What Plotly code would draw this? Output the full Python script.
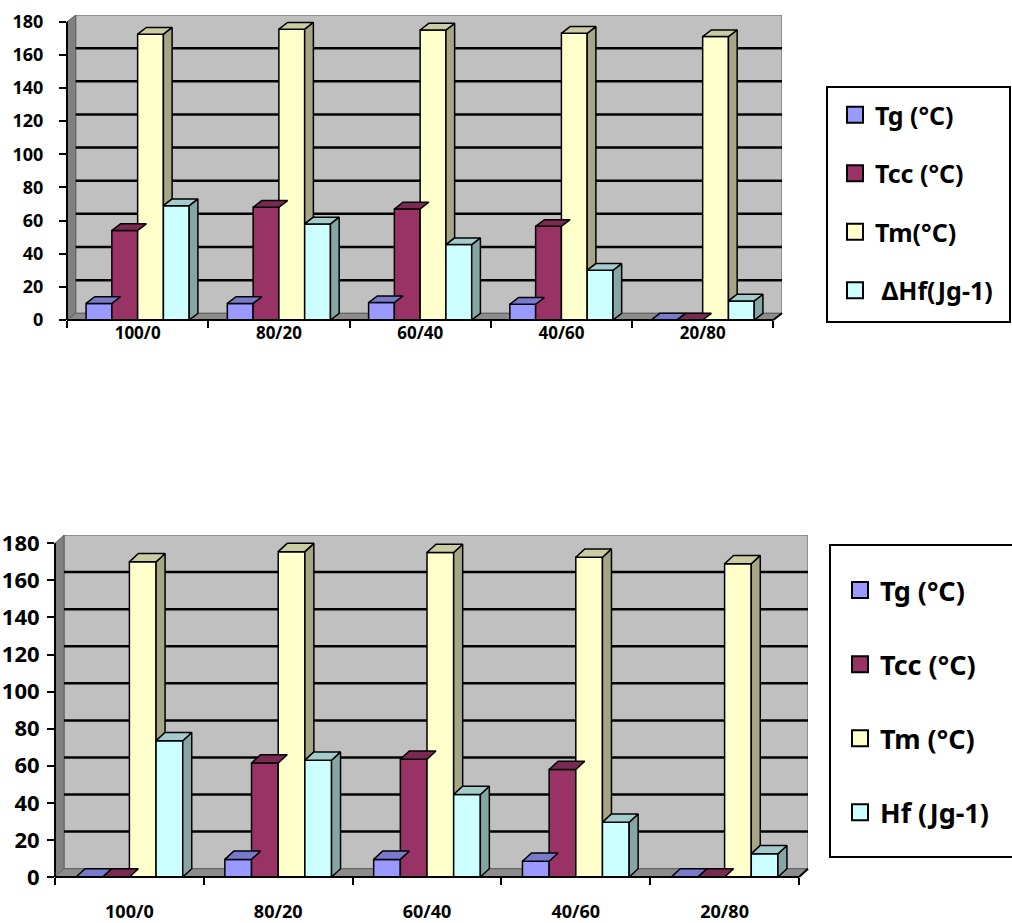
import plotly.graph_objects as go

# ---------------- data ----------------
categories = ["100/0", "80/20", "60/40", "40/60", "20/80"]

names_top = ["Tg (°C)", "Tcc (°C)", "Tm(°C)", "\u00a0ΔHf(Jg-1)"]
tg_top = [10, 10, 10.5, 9.5, 0]
tcc_top = [54, 68, 67, 56.5, 0]
tm_top = [172.5, 175.5, 175, 173, 171]
hf_top = [69, 58, 45.5, 30, 11.5]

names_bot = ["Tg (°C)", "Tcc (°C)", "Tm (°C)", "Hf (Jg-1)"]
tg_bot = [0, 9.5, 9.5, 8.5, 0]
tcc_bot = [0, 61.5, 63.5, 58, 0]
tm_bot = [170, 175.5, 175, 172.5, 169]
hf_bot = [73.5, 63, 44.5, 29.5, 12.5]

y_ticks = [0, 20, 40, 60, 80, 100, 120, 140, 160, 180]
y_max = 180

# ---------------- style ----------------
W, H = 1012, 923
FONT = "Noto Sans"
front_colors = ["#9999FF", "#993366", "#FFFFCC", "#CCFFFF"]
top_colors = ["#7A7ACC", "#7A2952", "#CCCCA3", "#A3CCCC"]
side_colors = ["#5C5C99", "#5C1F3D", "#A6A686", "#86A6A6"]

panels = [
    dict(sfx="", series=[tg_top, tcc_top, tm_top, hf_top], names=names_top,
         left=67, right=782, bottom=320, top=15, dxp=8.7, dyp=6.7, gap=0.27,
         yfs=18, xfs=17, ystand=12, xstand=1, legend="legend",
         lfs=25, lgap=23, lx=835, ly=92, box=(827, 87, 1010, 322)),
    dict(sfx="2", series=[tg_bot, tcc_bot, tm_bot, hf_bot], names=names_bot,
         left=55, right=808, bottom=877, top=535, dxp=9.0, dyp=8.3, gap=0.283,
         yfs=22, xfs=18, ystand=3, xstand=22, legend="legend2",
         lfs=27, lgap=36, lx=840, ly=566, box=(830, 545, 1016, 857)),
]

fig = go.Figure()
shapes = []
layout = dict(width=W, height=H, margin=dict(l=0, r=0, t=0, b=0, autoexpand=False),
              paper_bgcolor="white", plot_bgcolor="rgba(0,0,0,0)",
              barmode="overlay", showlegend=True)

for p in panels:
    sfx = p["sfx"]
    xa, ya = "x" + sfx, "y" + sfx
    n = len(categories)
    cat_px = (p["right"] - p["dxp"] - p["left"]) / n
    px_per_unit = (p["bottom"] - p["top"] - p["dyp"]) / y_max
    dxu = p["dxp"] / cat_px
    dyu = p["dyp"] / px_per_unit
    xr = [-0.5, n - 0.5 + dxu]
    yr = [0, y_max + dyu]

    layout["xaxis" + sfx] = dict(
        domain=[p["left"] / W, p["right"] / W], range=xr, anchor=ya,
        tickmode="array", tickvals=list(range(n)), ticktext=categories,
        ticks="", showgrid=False, zeroline=False, showline=False,
        ticklabelstandoff=p["xstand"], automargin=False,
        tickfont=dict(family=FONT, size=p["xfs"], color="black", weight="bold"),
        minor=dict(tickmode="array", tickvals=[i - 0.5 for i in range(n + 1)],
                   ticks="outside", ticklen=7, tickwidth=2, tickcolor="black",
                   showgrid=False),
        fixedrange=True)
    layout["yaxis" + sfx] = dict(
        domain=[1 - p["bottom"] / H, 1 - p["top"] / H], range=yr, anchor=xa,
        tickmode="array", tickvals=y_ticks, ticks="outside", ticklen=7,
        tickwidth=2, tickcolor="black", showgrid=False, zeroline=False,
        showline=False, ticklabelstandoff=p["ystand"], automargin=False,
        tickfont=dict(family=FONT, size=p["yfs"], color="black", weight="bold"),
        fixedrange=True)

    # walls and floor
    x0w, x1w = -0.5, n - 0.5
    shapes.append(dict(type="rect", xref=xa, yref=ya, x0=x0w + dxu, x1=x1w + dxu,
                       y0=dyu, y1=y_max + dyu, fillcolor="#C0C0C0",
                       line=dict(color="#606060", width=1), layer="below"))
    shapes.append(dict(type="path", xref=xa, yref=ya,
                       path=f"M{x0w},0 L{x0w},{y_max} L{x0w + dxu},{y_max + dyu} L{x0w + dxu},{dyu} Z",
                       fillcolor="#808080", line=dict(color="#606060", width=1), layer="below"))
    shapes.append(dict(type="path", xref=xa, yref=ya,
                       path=f"M{x0w},0 L{x1w},0 L{x1w + dxu},{dyu} L{x0w + dxu},{dyu} Z",
                       fillcolor="#8C8C8C", line=dict(color="#606060", width=1), layer="below"))
    for t in y_ticks[1:-1]:
        shapes.append(dict(type="line", xref=xa, yref=ya, x0=x0w + dxu, x1=x1w + dxu,
                           y0=t + dyu, y1=t + dyu, line=dict(color="black", width=2.5),
                           layer="below"))
    # front axis lines (domain refs so they are not clipped)
    xspan = xr[1] - xr[0]
    yspan = yr[1] - yr[0]
    shapes.append(dict(type="line", xref=xa + " domain", yref=ya + " domain",
                       x0=0, x1=0, y0=0, y1=y_max / yspan,
                       line=dict(color="black", width=2), layer="above"))
    shapes.append(dict(type="line", xref=xa + " domain", yref=ya + " domain",
                       x0=0, x1=(x1w - xr[0]) / xspan, y0=0, y1=0,
                       line=dict(color="black", width=2), layer="above"))
    shapes.append(dict(type="line", xref=xa + " domain", yref=ya + " domain",
                       x0=(x1w - xr[0]) / xspan, x1=1, y0=0, y1=dyu / yspan,
                       line=dict(color="black", width=2), layer="above"))

    # bars (front faces)
    bw = (1 - p["gap"]) / 4
    for k, vals in enumerate(p["series"]):
        off = -(1 - p["gap"]) / 2 + k * bw
        fig.add_trace(go.Bar(x=list(range(n)), y=vals, width=bw, offset=off,
                             marker=dict(color=front_colors[k], line=dict(color="black", width=1.5)),
                             xaxis=xa, yaxis=ya, showlegend=False, hoverinfo="skip"))
    # top and side faces
    for k, vals in enumerate(p["series"]):
        off = -(1 - p["gap"]) / 2 + k * bw
        tx, ty, sx, sy = [], [], [], []
        for i, v in enumerate(vals):
            a = i + off
            b = a + bw
            tx += [a, b, b + dxu, a + dxu, a, None]
            ty += [v, v, v + dyu, v + dyu, v, None]
            if k == len(p["series"]) - 1:
                sx += [b, b, b + dxu, b + dxu, b, None]
                sy += [0, v, v + dyu, dyu, 0, None]
            else:
                vn = p["series"][k + 1][i]
                if vn < v:
                    sx += [b, b, b + dxu, b + dxu, b, None]
                    sy += [vn, v, v + dyu, vn + dyu, vn, None]
        if sx:
            fig.add_trace(go.Scatter(x=sx, y=sy, mode="lines", fill="toself",
                                     fillcolor=side_colors[k], line=dict(color="black", width=1.5),
                                     xaxis=xa, yaxis=ya, showlegend=False, hoverinfo="skip"))
        fig.add_trace(go.Scatter(x=tx, y=ty, mode="lines", fill="toself",
                                 fillcolor=top_colors[k], line=dict(color="black", width=1.5),
                                 xaxis=xa, yaxis=ya, showlegend=False, hoverinfo="skip"))

    # legend entries
    for k, nm in enumerate(p["names"]):
        fig.add_trace(go.Scatter(x=[None], y=[None], mode="markers", name=nm,
                                 marker=dict(symbol="square", size=16, color=front_colors[k],
                                             line=dict(color="black", width=2)),
                                 legend=p["legend"], legendgroup=f"{sfx}g{k}",
                                 xaxis=xa, yaxis=ya, hoverinfo="skip"))
    layout[p["legend"]] = dict(
        x=p["lx"] / W, y=1 - p["ly"] / H, xanchor="left", yanchor="top",
        bgcolor="rgba(0,0,0,0)", borderwidth=0, traceorder="grouped",
        tracegroupgap=p["lgap"], itemclick=False, itemdoubleclick=False,
        font=dict(family=FONT, size=p["lfs"], color="black", weight="bold"))
    bx0, by0, bx1, by1 = p["box"]
    shapes.append(dict(type="rect", xref="paper", yref="paper",
                       x0=bx0 / W, x1=bx1 / W, y0=1 - by1 / H, y1=1 - by0 / H,
                       fillcolor="white", line=dict(color="black", width=2), layer="below"))

layout["shapes"] = shapes
fig.update_layout(**layout)
fig.write_html("out.html", config={"displayModeBar": False, "staticPlot": True},
               post_script="document.body.style.margin='0';document.body.style.overflow='hidden';")
